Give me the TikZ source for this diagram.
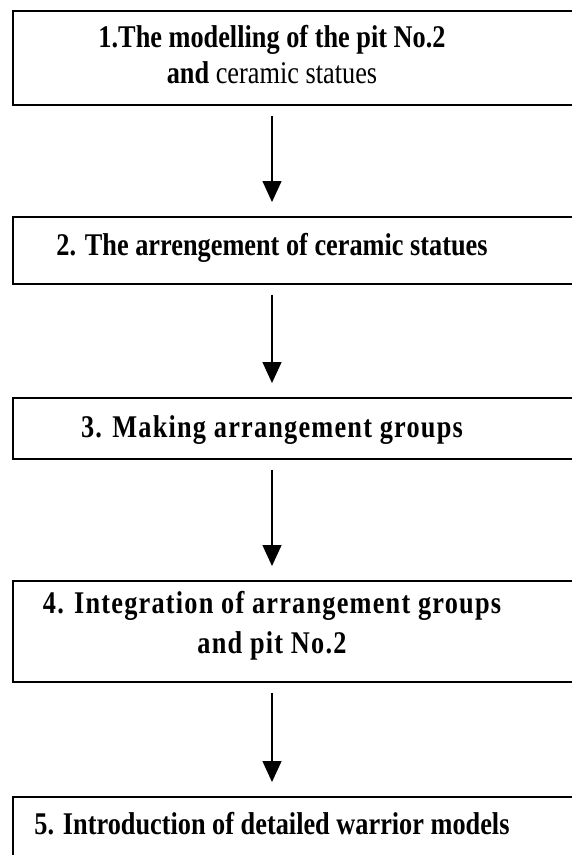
\documentclass[tikz,border=0pt]{standalone}
\usepackage{fontspec}
\setmainfont{Liberation Serif}
\usetikzlibrary{arrows.meta}
\tikzset{stage frame/.style={draw, line width=1.6pt, minimum width=620pt, anchor=north west, inner sep=0pt},
         stage text/.style={font=\bfseries\fontsize{26.3}{36}\selectfont, align=center, inner sep=0pt, anchor=base},
         wide text/.style={font=\bfseries\fontsize{26.3}{40}\selectfont\addfontfeature{LetterSpace=4.6}},
         flow/.style={line width=1.3pt, -{Triangle[length=21pt,width=19pt]}, shorten <=10pt, shorten >=14pt}}
\newcommand{\tall}[1]{\scalebox{1}[1.2]{#1}}

\begin{document}
\begin{tikzpicture}[x=1pt,y=-1pt]
        \useasboundingbox (0,0) rectangle (572,855);

        % frames
        \node (b1)	[stage frame, minimum height=94pt]	at	(12,10)		{};
        \node (b2)	[stage frame, minimum height=67pt]	at	(12,216)	{};
        \node (b3)	[stage frame, minimum height=61pt]	at	(12,397)	{};
        \node (b4)	[stage frame, minimum height=101pt]	at	(12,580)	{};
        \node (b5)	[stage frame, minimum height=100pt]	at	(12,796)	{};

        % texts (base = last line)
        \node (s1)	[stage text]	at	(272,83)	{\tall{1.The modelling of the pit No.2}\\ \tall{and \mdseries ceramic statues}};
        \node (s2)	[stage text]	at	(272,255)	{\tall{2. The arrengement of ceramic statues}};
        \node (s3)	[stage text, wide text]	at	(272,437)	{\tall{3. Making arrangement groups}};
        \node (s4)	[stage text, wide text]	at	(272,653)	{\tall{4. Integration of arrangement groups}\\ \tall{and pit No.2}};
        \node (s5)	[stage text]	at	(272,834)	{\tall{5. Introduction of detailed warrior models}};

        \draw [flow] (s1 |- b1.south) -- (s2 |- b2.north);
        \draw [flow] (s1 |- b2.south) -- (s3 |- b3.north);
        \draw [flow] (s1 |- b3.south) -- (s4 |- b4.north);
        \draw [flow] (s1 |- b4.south) -- (s5 |- b5.north);
\end{tikzpicture}
\end{document}
